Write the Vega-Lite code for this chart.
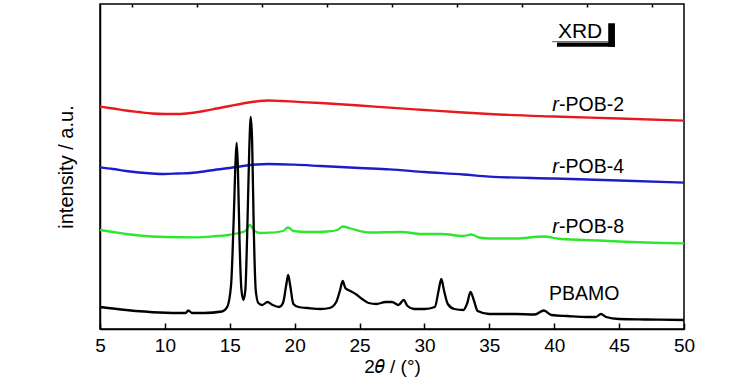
{
  "$schema": "https://vega.github.io/schema/vega-lite/v6.json",
  "width": 584,
  "height": 325,
  "autosize": {"type": "none"},
  "padding": {"left": 100, "top": 4, "right": 45, "bottom": 61},
  "background": "white",
  "config": {
    "view": {"stroke": "#000", "strokeWidth": 1.5},
    "font": "Liberation Sans"
  },
  "datasets": {
    "xrd": [
      {"series": "r-POB-2", "x": 5, "v": 222.3},
      {"series": "r-POB-2", "x": 6, "v": 220.5},
      {"series": "r-POB-2", "x": 7, "v": 218.5},
      {"series": "r-POB-2", "x": 8, "v": 217},
      {"series": "r-POB-2", "x": 9, "v": 215.5},
      {"series": "r-POB-2", "x": 10, "v": 215},
      {"series": "r-POB-2", "x": 11, "v": 215},
      {"series": "r-POB-2", "x": 12, "v": 216},
      {"series": "r-POB-2", "x": 13, "v": 218},
      {"series": "r-POB-2", "x": 14, "v": 220.5},
      {"series": "r-POB-2", "x": 15, "v": 223},
      {"series": "r-POB-2", "x": 16, "v": 225.5},
      {"series": "r-POB-2", "x": 17, "v": 227.5},
      {"series": "r-POB-2", "x": 18, "v": 228.5},
      {"series": "r-POB-2", "x": 19, "v": 228},
      {"series": "r-POB-2", "x": 20, "v": 227.3},
      {"series": "r-POB-2", "x": 22, "v": 226},
      {"series": "r-POB-2", "x": 25, "v": 223.5},
      {"series": "r-POB-2", "x": 27.3, "v": 221.3},
      {"series": "r-POB-2", "x": 30, "v": 219},
      {"series": "r-POB-2", "x": 33, "v": 216.5},
      {"series": "r-POB-2", "x": 35, "v": 215},
      {"series": "r-POB-2", "x": 40, "v": 212.5},
      {"series": "r-POB-2", "x": 45, "v": 210.5},
      {"series": "r-POB-2", "x": 50, "v": 208.3},
      {"series": "r-POB-4", "x": 5, "v": 161.7},
      {"series": "r-POB-4", "x": 6, "v": 160},
      {"series": "r-POB-4", "x": 7, "v": 158},
      {"series": "r-POB-4", "x": 8, "v": 156.5},
      {"series": "r-POB-4", "x": 9, "v": 155.5},
      {"series": "r-POB-4", "x": 10, "v": 155},
      {"series": "r-POB-4", "x": 11, "v": 155.5},
      {"series": "r-POB-4", "x": 12, "v": 156},
      {"series": "r-POB-4", "x": 13, "v": 157.5},
      {"series": "r-POB-4", "x": 14, "v": 159.5},
      {"series": "r-POB-4", "x": 15, "v": 161},
      {"series": "r-POB-4", "x": 16, "v": 163},
      {"series": "r-POB-4", "x": 17, "v": 164.5},
      {"series": "r-POB-4", "x": 18, "v": 165},
      {"series": "r-POB-4", "x": 20, "v": 164.3},
      {"series": "r-POB-4", "x": 22, "v": 163},
      {"series": "r-POB-4", "x": 25, "v": 161},
      {"series": "r-POB-4", "x": 27.3, "v": 159.7},
      {"series": "r-POB-4", "x": 30, "v": 157},
      {"series": "r-POB-4", "x": 33, "v": 154.5},
      {"series": "r-POB-4", "x": 35, "v": 152.3},
      {"series": "r-POB-4", "x": 40, "v": 150.5},
      {"series": "r-POB-4", "x": 45, "v": 148.5},
      {"series": "r-POB-4", "x": 50, "v": 146.3},
      {"series": "r-POB-8", "x": 5, "v": 99},
      {"series": "r-POB-8", "x": 6, "v": 97},
      {"series": "r-POB-8", "x": 7, "v": 95},
      {"series": "r-POB-8", "x": 8, "v": 93.5},
      {"series": "r-POB-8", "x": 9, "v": 92.5},
      {"series": "r-POB-8", "x": 10, "v": 92},
      {"series": "r-POB-8", "x": 12.3, "v": 91.7},
      {"series": "r-POB-8", "x": 14, "v": 93},
      {"series": "r-POB-8", "x": 14.9, "v": 94},
      {"series": "r-POB-8", "x": 15.5, "v": 95.5},
      {"series": "r-POB-8", "x": 16.2, "v": 98},
      {"series": "r-POB-8", "x": 16.55, "v": 104},
      {"series": "r-POB-8", "x": 16.9, "v": 98},
      {"series": "r-POB-8", "x": 17.3, "v": 96},
      {"series": "r-POB-8", "x": 18.1, "v": 96.3},
      {"series": "r-POB-8", "x": 19.1, "v": 98},
      {"series": "r-POB-8", "x": 19.5, "v": 101.5},
      {"series": "r-POB-8", "x": 19.9, "v": 98},
      {"series": "r-POB-8", "x": 21, "v": 97},
      {"series": "r-POB-8", "x": 22.5, "v": 97.5},
      {"series": "r-POB-8", "x": 23.3, "v": 99},
      {"series": "r-POB-8", "x": 23.7, "v": 102.5},
      {"series": "r-POB-8", "x": 24.3, "v": 100.5},
      {"series": "r-POB-8", "x": 25.8, "v": 96.5},
      {"series": "r-POB-8", "x": 28.2, "v": 97},
      {"series": "r-POB-8", "x": 29.8, "v": 95},
      {"series": "r-POB-8", "x": 31.3, "v": 95},
      {"series": "r-POB-8", "x": 33, "v": 93},
      {"series": "r-POB-8", "x": 33.6, "v": 94.5},
      {"series": "r-POB-8", "x": 34.2, "v": 91.5},
      {"series": "r-POB-8", "x": 35, "v": 90.5},
      {"series": "r-POB-8", "x": 37, "v": 90.5},
      {"series": "r-POB-8", "x": 39.2, "v": 92.5},
      {"series": "r-POB-8", "x": 40.5, "v": 90},
      {"series": "r-POB-8", "x": 43.5, "v": 88.5},
      {"series": "r-POB-8", "x": 45, "v": 87.5},
      {"series": "r-POB-8", "x": 50, "v": 85.7},
      {"series": "PBAMO", "x": 5, "v": 22},
      {"series": "PBAMO", "x": 7, "v": 19},
      {"series": "PBAMO", "x": 9.6, "v": 16.5},
      {"series": "PBAMO", "x": 11.6, "v": 16},
      {"series": "PBAMO", "x": 11.8, "v": 18.5},
      {"series": "PBAMO", "x": 12.1, "v": 16},
      {"series": "PBAMO", "x": 13, "v": 16},
      {"series": "PBAMO", "x": 14.4, "v": 17.5},
      {"series": "PBAMO", "x": 14.8, "v": 22},
      {"series": "PBAMO", "x": 15.1, "v": 44},
      {"series": "PBAMO", "x": 15.3, "v": 109},
      {"series": "PBAMO", "x": 15.45, "v": 169},
      {"series": "PBAMO", "x": 15.53, "v": 186},
      {"series": "PBAMO", "x": 15.62, "v": 164},
      {"series": "PBAMO", "x": 15.75, "v": 89},
      {"series": "PBAMO", "x": 15.9, "v": 39},
      {"series": "PBAMO", "x": 16.05, "v": 29},
      {"series": "PBAMO", "x": 16.2, "v": 39},
      {"series": "PBAMO", "x": 16.35, "v": 99},
      {"series": "PBAMO", "x": 16.5, "v": 179},
      {"series": "PBAMO", "x": 16.62, "v": 212},
      {"series": "PBAMO", "x": 16.72, "v": 189},
      {"series": "PBAMO", "x": 16.85, "v": 99},
      {"series": "PBAMO", "x": 17, "v": 39},
      {"series": "PBAMO", "x": 17.2, "v": 26},
      {"series": "PBAMO", "x": 17.5, "v": 24},
      {"series": "PBAMO", "x": 17.9, "v": 27},
      {"series": "PBAMO", "x": 18.3, "v": 24},
      {"series": "PBAMO", "x": 18.8, "v": 22},
      {"series": "PBAMO", "x": 19.1, "v": 26},
      {"series": "PBAMO", "x": 19.35, "v": 44},
      {"series": "PBAMO", "x": 19.5, "v": 54},
      {"series": "PBAMO", "x": 19.65, "v": 44},
      {"series": "PBAMO", "x": 19.9, "v": 25},
      {"series": "PBAMO", "x": 20.3, "v": 22},
      {"series": "PBAMO", "x": 21, "v": 21},
      {"series": "PBAMO", "x": 22, "v": 20},
      {"series": "PBAMO", "x": 22.7, "v": 21},
      {"series": "PBAMO", "x": 23.2, "v": 27},
      {"series": "PBAMO", "x": 23.5, "v": 39},
      {"series": "PBAMO", "x": 23.7, "v": 48},
      {"series": "PBAMO", "x": 23.9, "v": 41},
      {"series": "PBAMO", "x": 24.3, "v": 38},
      {"series": "PBAMO", "x": 24.7, "v": 35},
      {"series": "PBAMO", "x": 25.2, "v": 30},
      {"series": "PBAMO", "x": 25.7, "v": 26},
      {"series": "PBAMO", "x": 26.3, "v": 25},
      {"series": "PBAMO", "x": 27, "v": 27},
      {"series": "PBAMO", "x": 27.5, "v": 27},
      {"series": "PBAMO", "x": 28, "v": 24},
      {"series": "PBAMO", "x": 28.4, "v": 29},
      {"series": "PBAMO", "x": 28.7, "v": 23},
      {"series": "PBAMO", "x": 29.2, "v": 20},
      {"series": "PBAMO", "x": 30, "v": 20},
      {"series": "PBAMO", "x": 30.8, "v": 22},
      {"series": "PBAMO", "x": 31.1, "v": 39},
      {"series": "PBAMO", "x": 31.3, "v": 50},
      {"series": "PBAMO", "x": 31.5, "v": 39},
      {"series": "PBAMO", "x": 31.8, "v": 25},
      {"series": "PBAMO", "x": 32.3, "v": 20},
      {"series": "PBAMO", "x": 33, "v": 19},
      {"series": "PBAMO", "x": 33.3, "v": 26},
      {"series": "PBAMO", "x": 33.55, "v": 37},
      {"series": "PBAMO", "x": 33.8, "v": 29},
      {"series": "PBAMO", "x": 34.1, "v": 18},
      {"series": "PBAMO", "x": 35, "v": 15},
      {"series": "PBAMO", "x": 37, "v": 15},
      {"series": "PBAMO", "x": 38.5, "v": 14.5},
      {"series": "PBAMO", "x": 39.2, "v": 18.5},
      {"series": "PBAMO", "x": 39.8, "v": 14},
      {"series": "PBAMO", "x": 41, "v": 13},
      {"series": "PBAMO", "x": 42.5, "v": 12},
      {"series": "PBAMO", "x": 43.2, "v": 12},
      {"series": "PBAMO", "x": 43.6, "v": 15},
      {"series": "PBAMO", "x": 44, "v": 12},
      {"series": "PBAMO", "x": 45, "v": 10},
      {"series": "PBAMO", "x": 47, "v": 9.5},
      {"series": "PBAMO", "x": 50, "v": 9}
    ],
    "labels": [
      {"x": 40.37, "v": 218.3, "pre": "r", "post": "-POB-2"},
      {"x": 40.37, "v": 155.7, "pre": "r", "post": "-POB-4"},
      {"x": 40.37, "v": 96.3, "pre": "r", "post": "-POB-8"},
      {"x": 39.6, "v": 29, "pre": "", "post": "PBAMO"}
    ],
    "legendbox": [
      {"x": 44.16, "x2": 44.68, "v": 305.7, "v2": 282.3},
      {"x": 40.21, "x2": 44.68, "v": 286.6, "v2": 282.3}
    ],
    "legendline": [
      {"x": 39.85, "x2": 44.16, "v": 287.3}
    ],
    "legendtext": [
      {"x": 41.99, "v": 291, "t": "XRD"}
    ]
  },
  "resolve": {"axis": {"x": "independent", "y": "independent"}},
  "layer": [
    {
      "data": {"name": "xrd"},
      "mark": {"type": "line", "interpolate": "monotone"},
      "encoding": {
        "x": {
          "field": "x", "type": "quantitative",
          "scale": {"domain": [5, 50], "nice": false, "zero": false},
          "axis": {
            "values": [5, 10, 15, 20, 25, 30, 35, 40, 45, 50],
            "tickSize": -6, "tickWidth": 1.5, "tickColor": "#000",
            "domainColor": "#000", "domainWidth": 1.5,
            "labelFontSize": 19, "labelColor": "#000", "labelPadding": 13,
            "labelFlush": false, "labelFont": "Liberation Sans",
            "grid": false,
            "title": "2𝜃 / (°)", "titleFontSize": 19, "titleFontWeight": "normal",
            "titleColor": "#000", "titleFont": "Liberation Sans", "titlePadding": 2
          }
        },
        "y": {
          "field": "v", "type": "quantitative",
          "scale": {"domain": [0, 325], "nice": false, "zero": false},
          "axis": {
            "ticks": false, "labels": false, "grid": false,
            "domainColor": "#000", "domainWidth": 1.5,
            "title": "intensity / a.u.", "titleFontSize": 20, "titleFontWeight": "normal",
            "titleColor": "#000", "titleFont": "Liberation Sans", "titlePadding": 24
          }
        },
        "color": {
          "field": "series", "type": "nominal",
          "scale": {
            "domain": ["r-POB-2", "r-POB-4", "r-POB-8", "PBAMO"],
            "range": ["#e8191e", "#1c1cc8", "#2ee62e", "#000000"]
          },
          "legend": null
        },
        "strokeWidth": {
          "field": "series", "type": "nominal",
          "scale": {"domain": ["r-POB-2", "r-POB-4", "r-POB-8", "PBAMO"], "range": [2.3, 2.3, 2.3, 3]},
          "legend": null
        },
        "order": {"field": "x", "type": "quantitative"}
      }
    },
    {
      "data": {"name": "labels"},
      "mark": {"type": "text", "align": "right", "baseline": "alphabetic", "fontSize": 20, "fontStyle": "italic", "font": "Liberation Sans", "color": "#000"},
      "encoding": {
        "x": {
          "field": "x", "type": "quantitative",
          "scale": {"domain": [5, 50], "nice": false, "zero": false},
          "axis": {
            "values": [7.5, 12.5, 17.5, 22.5, 27.5, 32.5, 37.5, 42.5, 47.5],
            "tickSize": -3, "tickWidth": 1.5, "tickColor": "#000",
            "domain": false, "labels": false, "grid": false, "title": null
          }
        },
        "y": {"field": "v", "type": "quantitative", "scale": {"domain": [0, 325], "nice": false, "zero": false}, "axis": null},
        "text": {"field": "pre"}
      }
    },
    {
      "data": {"name": "labels"},
      "mark": {"type": "text", "align": "left", "baseline": "alphabetic", "fontSize": 19.5, "font": "Liberation Sans", "color": "#000"},
      "encoding": {
        "x": {"field": "x", "type": "quantitative", "scale": {"domain": [5, 50], "nice": false, "zero": false}, "axis": null},
        "y": {"field": "v", "type": "quantitative", "scale": {"domain": [0, 325], "nice": false, "zero": false}, "axis": null},
        "text": {"field": "post"}
      }
    },
    {
      "data": {"name": "legendbox"},
      "mark": {"type": "rect", "color": "#000"},
      "encoding": {
        "x": {"field": "x", "type": "quantitative", "scale": {"domain": [5, 50], "nice": false, "zero": false}, "axis": null},
        "x2": {"field": "x2"},
        "y": {"field": "v", "type": "quantitative", "scale": {"domain": [0, 325], "nice": false, "zero": false}, "axis": null},
        "y2": {"field": "v2"}
      }
    },
    {
      "data": {"name": "legendline"},
      "mark": {"type": "rule", "color": "#555", "strokeWidth": 1},
      "encoding": {
        "x": {"field": "x", "type": "quantitative", "scale": {"domain": [5, 50], "nice": false, "zero": false}, "axis": null},
        "x2": {"field": "x2"},
        "y": {"field": "v", "type": "quantitative", "scale": {"domain": [0, 325], "nice": false, "zero": false}, "axis": null}
      }
    },
    {
      "data": {"name": "legendtext"},
      "mark": {"type": "text", "align": "center", "baseline": "alphabetic", "fontSize": 21, "font": "Liberation Sans", "color": "#000"},
      "encoding": {
        "x": {"field": "x", "type": "quantitative", "scale": {"domain": [5, 50], "nice": false, "zero": false}, "axis": null},
        "y": {"field": "v", "type": "quantitative", "scale": {"domain": [0, 325], "nice": false, "zero": false}, "axis": null},
        "text": {"field": "t"}
      }
    }
  ]
}
